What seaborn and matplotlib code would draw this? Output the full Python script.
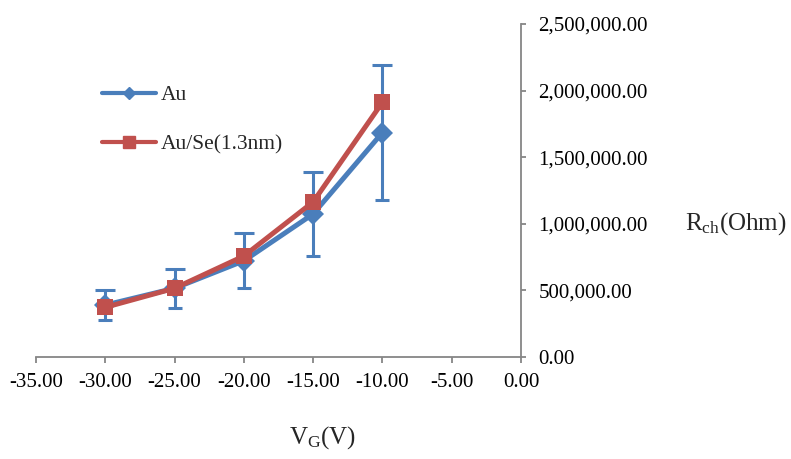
import matplotlib
matplotlib.use("Agg")
import matplotlib.pyplot as plt
from matplotlib.lines import Line2D
from matplotlib.ticker import FixedLocator, FuncFormatter
import numpy as np
import pandas as pd
import seaborn as sns

# Gate voltage sweep (V)
vg = [-30, -25, -20, -15, -10]
# Channel resistance (Ohm)
r_au = [390000, 516000, 722000, 1074000, 1685000]
r_au_err = [113000, 145000, 206000, 315000, 504000]
r_ause = [373000, 516000, 758000, 1164000, 1912000]

series_names = ["Au", "Au/Se(1.3nm)"]
x_ticks = [-35, -30, -25, -20, -15, -10, -5, 0]
y_ticks = [0, 500000, 1000000, 1500000, 2000000, 2500000]

blue = "#4a7ebb"
red = "#c0504d"
axis_gray = "#868686"

sns.set_theme(style="white")
plt.rcParams["font.family"] = ["Liberation Serif", "DejaVu Serif"]
plt.rcParams["mathtext.fontset"] = "custom"
plt.rcParams["mathtext.rm"] = "Liberation Serif"
plt.rcParams["mathtext.it"] = "Liberation Serif:italic"

df = pd.DataFrame({
    "VG": vg * 2,
    "R": r_au + r_ause,
    "series": [series_names[0]] * len(vg) + [series_names[1]] * len(vg),
})

W, H = 791, 459
fig = plt.figure(figsize=(W / 100, H / 100), dpi=100)
ax = fig.add_axes([36 / W, 1 - 357 / H, 485 / W, 333 / H])

# error bars for Au
ax.errorbar(vg, r_au, yerr=r_au_err, fmt="none", ecolor=blue,
            elinewidth=2.2, capsize=4.5, capthick=2.2, zorder=2)

sns.lineplot(data=df, x="VG", y="R", hue="series", style="series",
             palette={series_names[0]: blue, series_names[1]: red},
             markers={series_names[0]: "D", series_names[1]: "s"},
             dashes=False, linewidth=3.6, markersize=11,
             markeredgewidth=0, legend=False, ax=ax, zorder=3)
for line, ms in zip(ax.get_lines(), [10.5, 14.5]):
    line.set_markersize(ms)
ax.get_lines()[-1].set_zorder(4)

ax.set_xlim(-35, 0)
ax.set_ylim(0, 2500000)
ax.xaxis.set_major_locator(FixedLocator(x_ticks))
ax.yaxis.set_major_locator(FixedLocator(y_ticks))
ax.xaxis.set_major_formatter(FuncFormatter(lambda v, p: f"{v:.2f}"))
ax.yaxis.set_major_formatter(FuncFormatter(lambda v, p: f"{v:,.2f}"))

for side in ["top", "left"]:
    ax.spines[side].set_visible(False)
for side in ["bottom", "right"]:
    ax.spines[side].set_color(axis_gray)
    ax.spines[side].set_linewidth(1.3)
ax.yaxis.tick_right()
ax.tick_params(axis="x", direction="out", length=4.5, width=1.3,
               color=axis_gray, labelsize=15, pad=7, labelcolor="black",
               bottom=True)
ax.tick_params(axis="y", direction="out", length=3.5, width=1.3,
               color=axis_gray, labelsize=15, pad=9, labelcolor="black",
               right=True, left=False)
ax.set_xlabel("")
ax.set_ylabel("")

fig.text(685 / W, 1 - 224 / H, r"R$_{\mathrm{ch}}$(Ohm)", fontsize=18,
         ha="left", va="center")
fig.text(323 / W, 1 - 438 / H, r"V$_{\mathrm{G}}$(V)", fontsize=18,
         ha="center", va="center")

handles = [
    Line2D([], [], color=blue, lw=3, marker="D", markersize=6),
    Line2D([], [], color=red, lw=3, marker="s", markersize=8.5),
]
ax.legend(handles, series_names, loc="upper left",
          bbox_to_anchor=(102 / W, 1 - 85 / H), bbox_transform=fig.transFigure,
          frameon=False, fontsize=15.5, handlelength=2.5, handletextpad=0.25,
          labelspacing=1.35, borderpad=0, borderaxespad=0)

fig.savefig("out.png", dpi=100)
